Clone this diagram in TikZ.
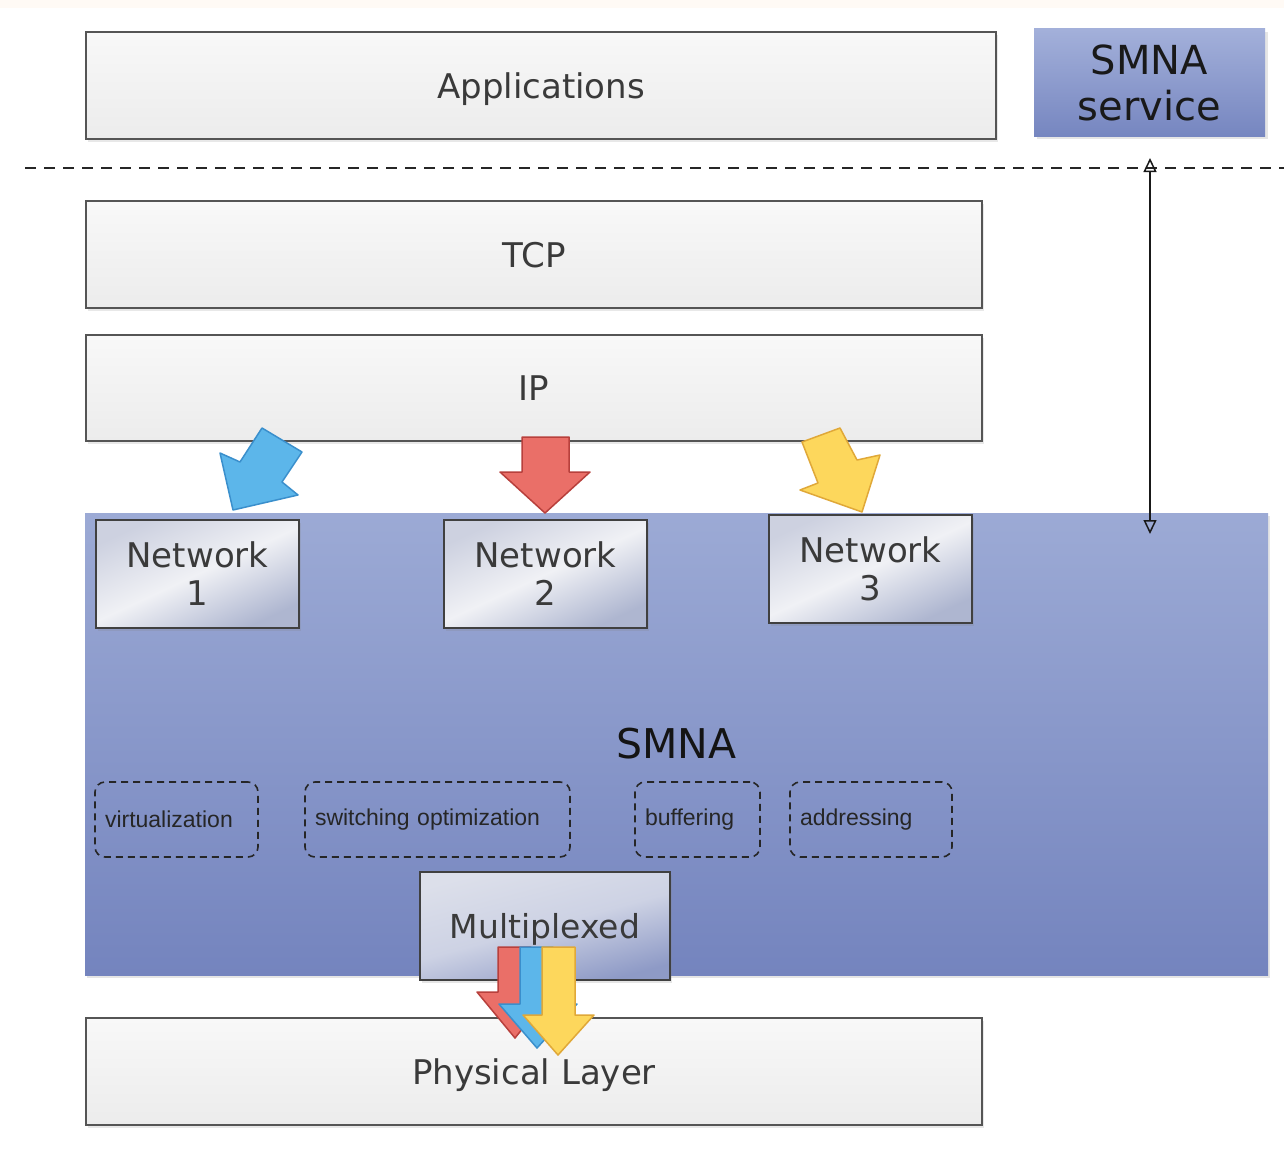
\documentclass[tikz,border=0pt]{standalone}
\usepackage{fontspec}
\setmainfont{DejaVu Sans}
\newfontfamily\smallfont{Liberation Sans}
\usetikzlibrary{arrows.meta,shadows}
\definecolor{boxline}{HTML}{555555}
\definecolor{txtgray}{HTML}{3A3A3A}
\definecolor{bluefill}{HTML}{5CB6EA}
\definecolor{blueline}{HTML}{3A8FCC}
\definecolor{redfill}{HTML}{EA6F68}
\definecolor{redline}{HTML}{B8403C}
\definecolor{yelfill}{HTML}{FDD75C}
\definecolor{yelline}{HTML}{E0A838}
\definecolor{nettop}{HTML}{CDD1E0}
\definecolor{netmid}{HTML}{F0F1F5}
\definecolor{netbot}{HTML}{AEB6D0}
\definecolor{smnatop}{HTML}{9CAAD5}
\definecolor{smnabot}{HTML}{7484BE}
\definecolor{svctop}{HTML}{A3B0DA}
\definecolor{svcbot}{HTML}{7686C0}
\definecolor{muxtop}{HTML}{DCDFEA}
\definecolor{muxmid}{HTML}{CDD2E4}
\definecolor{muxbot}{HTML}{8E9AC6}
\definecolor{graytop}{HTML}{F8F8F8}
\definecolor{graybot}{HTML}{ECECEC}
\tikzset{
  graybox/.style={draw=boxline, line width=2pt, top color=graytop, bottom color=graybot,
    text=txtgray, font=\fontsize{34}{38}\selectfont, inner sep=0pt,
    text height=25.5pt, text depth=0pt,
    drop shadow={opacity=0.18, shadow xshift=2pt, shadow yshift=-3pt}},
  netbox/.style={draw=black!75, line width=2pt, top color=nettop, bottom color=netbot,
    middle color=netmid, shading angle=25, minimum width=203pt, minimum height=108pt,
    text=txtgray, font=\fontsize{34}{38}\selectfont, align=center, inner sep=0pt,
    drop shadow={opacity=0.2, shadow xshift=2pt, shadow yshift=-3pt}},
  featbox/.style={draw=black!85, line width=1.6pt, dash pattern=on 7pt off 5pt, rounded corners=10pt,
    minimum height=75pt, inner xsep=10pt, align=left, font=\smallfont\fontsize{23}{25}\selectfont, text=black!85},
  blockarrow/.style={fill=#1fill, draw=#1line, line width=1.5pt, line join=round}
}
\begin{document}
\begin{tikzpicture}[x=1pt,y=-1pt]
\useasboundingbox (0,0) rectangle (1284,1148);
\fill[white] (0,0) rectangle (1284,1148);
\fill[orange!4] (0,0) rectangle (1284,8);

% top layer
\node[graybox, minimum width=910pt, minimum height=107pt] (app) at (541,85.5) {Applications};
\node[top color=svctop, bottom color=svcbot, inner sep=0pt,
      minimum width=231pt, minimum height=107pt, align=center, text=black!90,
      font=\fontsize{40}{46}\selectfont,
      drop shadow={opacity=0.2, shadow xshift=3pt, shadow yshift=-3pt}] (svc) at (1149.5,82.5) {SMNA\\service};

% dashed separator
\draw[black!85, line width=1.6pt, dash pattern=on 11pt off 8pt] (25,168) -- (1284,168);

\node[graybox, minimum width=896pt, minimum height=107pt] (tcp) at (534,254.5) {TCP};
\node[graybox, minimum width=896pt, minimum height=106pt] (ip) at (534,388) {IP};

% SMNA big box
\node[top color=smnatop, bottom color=smnabot, inner sep=0pt,
      minimum width=1183pt, minimum height=462pt, text=black!92,
      font=\fontsize{41}{45}\selectfont,
      drop shadow={opacity=0.2, shadow xshift=2pt, shadow yshift=-3pt}] (smna) at (676.5,744) {\raisebox{-2pt}{SMNA}};

\node[netbox] (n1) at (197.5,574) {Network\\1};
\node[netbox] (n2) at (545.5,574) {Network\\2};
\node[netbox] (n3) at (870.5,568.5) {Network\\3};

\node[featbox, minimum width=163pt, text width=143pt] (virt) at (176.5,819.5) {virtualization};
\node[featbox, minimum width=265pt, text width=245pt] (sw) at (437.5,819.5) {switching optimization};
\node[featbox, minimum width=125pt, text width=105pt] (buf) at (697.5,819.5) {buffering};
\node[featbox, minimum width=162pt, text width=142pt] (addr) at (871,819.5) {addressing};

\node[draw=black!75, line width=2pt, top color=muxtop, bottom color=muxbot,
      middle color=muxmid, shading angle=15,
      minimum width=250pt, minimum height=108pt, inner sep=0pt, text=txtgray,
      font=\fontsize{33}{38}\selectfont, text height=25pt, text depth=0pt,
      drop shadow={opacity=0.2, shadow xshift=2pt, shadow yshift=-3pt}] (mux) at (545,926) {Multiplexed};

\node[graybox, minimum width=896pt, minimum height=107pt] (phy) at (534,1071.5) {Physical Layer};

% service link
\coordinate (svcA) at (1150,158);
\coordinate (svcB) at (1150,534);
\draw[black!90, line width=1.5pt, {Triangle[open,length=14pt,width=13pt]}-{Triangle[open,length=14pt,width=13pt]}] (svcA) -- (svcB);

% block arrows IP -> networks
\draw[blockarrow=blue] (262,428) -- (302,452) -- (282,482) -- (298,495) -- (233,510) -- (220,453) -- (240,462) -- cycle;
\draw[blockarrow=red] (522,437) -- (569,437) -- (569,472) -- (590,472) -- (545,513) -- (500,472) -- (522,472) -- cycle;
\draw[blockarrow=yel] (802,442) -- (840,428) -- (857,460) -- (880,455) -- (862,512) -- (800,490) -- (818,483) -- cycle;

% multiplexed arrows
\draw[blockarrow=red] (498,947) -- (531,947) -- (531,992) -- (552,992) -- (515,1038) -- (477,992) -- (498,992) -- cycle;
\draw[blockarrow=blue] (520,947) -- (553,947) -- (553,1004) -- (577,1004) -- (537,1048) -- (499,1004) -- (520,1004) -- cycle;
\draw[blockarrow=yel] (542,947) -- (575,947) -- (575,1015) -- (594,1015) -- (558,1055) -- (523,1015) -- (542,1015) -- cycle;
\end{tikzpicture}
\end{document}
